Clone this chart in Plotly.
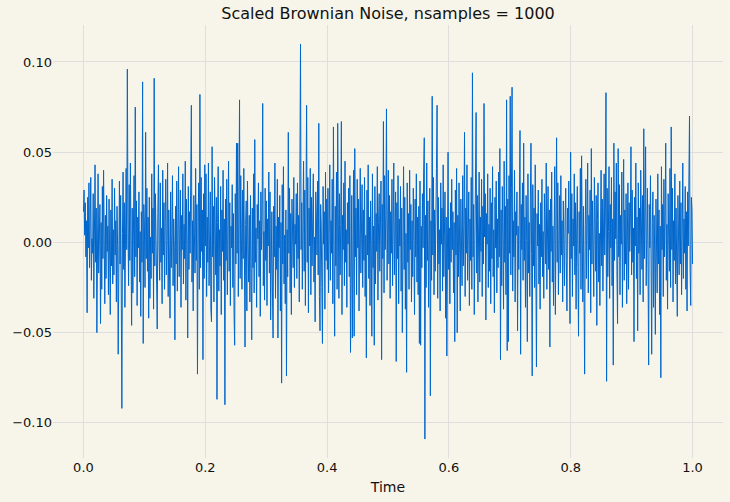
import numpy as np
import plotly.graph_objects as go

# noise values, in thousandths
noise_milli = [
    17, 29, 4, 22, -8, 12, -39, 25, -3, 33,
    -14, 8, 36, -21, 2, -6, 27, -31, 14, 43,
    -11, 19, -50, 6, 38, -17, -2, 21, -45, 11,
    -26, 31, -9, 40, 3, -34, 15, -20, 26, -5,
    9, -29, 24, 1, -40, 18, -13, 35, -23, 7,
    -18, 30, -7, 12, -33, 20, -1, -62, 16, 34,
    -12, 26, -27, -92, 5, 39, -15, 22, -36, 10,
    41, -4, 96, 13, -24, 32, -10, 44, 2, -46,
    19, -28, 8, 37, -19, 75, -8, 23, -35, 14,
    -3, 28, -22, 6, -41, 17, -11, 89, -56, 21,
    9, -25, 61, -9, 30, -16, 14, -42, 25, -31,
    3, -20, 38, -6, 19, -37, 91, -13, 27, 4,
    -29, -48, 16, 43, -2, -21, 33, -11, 8, -34,
    40, -7, 22, -26, 11, 35, -18, 1, 44, -30,
    18, -8, -42, 28, -14, 5, 37, -24, 13, -3,
    -54, 20, -12, 34, -27, 7, 42, -19, 2, 29,
    -36, 15, -4, 38, -23, 10, -9, 45, -32, 24,
    -1, -53, 31, -15, 17, -6, 39, 76, -22, 12,
    -38, 26, 5, -17, 41, -10, 21, -73, 9, 33,
    -26, 82, -14, 36, -5, 18, -65, 27, -20, 43,
    -2, 38, -30, 14, -11, 44, -24, 6, 28, -37,
    -44, 53, -8, 20, -33, 36, 1, -18, 25, -87,
    11, 42, -27, 7, -13, 31, -40, 18, -5, 40,
    -21, 13, -90, 24, -10, 35, -29, 4, 45, -16,
    22, -35, 9, -3, 32, -25, 16, -39, -57, 27,
    -12, 55, -6, 55, -30, 18, 79, -20, 37, 3,
    -26, 29, -9, 41, -15, -58, 10, 23, -38, 34,
    -1, -22, 15, -33, 26, -7, -54, 19, -14, 38,
    -28, 57, -11, 8, -36, 21, 2, 33, -19, 12,
    -41, 28, -4, 16, 77, -24, 6, -32, 30, -10,
    23, -35, 13, -2, 39, -17, 28, -43, 5, 17,
    -27, -53, 20, -8, 44, -31, 9, -15, 35, -53,
    14, -3, 26, -38, 11, -78, 32, -12, 42, -23,
    4, -34, 18, -74, 7, -19, 61, -6, 30, -28,
    16, -40, 24, 1, -14, 36, -25, 10, -1, 27,
    -20, 33, -9, 15, -33, 40, 110, -4, 22, -26,
    12, 45, -16, 29, -35, 8, 76, -11, 36, -39,
    19, -2, 41, -29, 25, -13, 6, 38, -22, 3,
    -44, 28, 14, -7, 34, -18, 66, -30, -49, 21,
    9, -25, -56, 31, -1, 17, -37, 39, -10, 24,
    -15, 30, -28, 5, 43, -21, 12, -6, 35, -34,
    64, -9, -52, 20, -13, 39, -26, 66, 2, -31,
    27, -18, 10, 67, -40, 15, -4, 33, -24, 45,
    -11, 7, -36, 22, -1, 30, -19, 37, -61, 16,
    26, -53, 11, 40, -52, 52, -8, 19, -29, 35,
    -3, 24, -38, 13, 41, -17, 6, 32, -25, 18,
    -10, 36, -30, 4, -64, 29, -7, 43, -20, 14,
    -35, 23, -1, -52, 38, -14, 9, -57, 31, -23,
    16, -5, 42, -32, 11, 27, -16, 2, 34, -65,
    21, -9, 67, -28, 37, -4, 15, 74, -21, 8,
    40, -12, 26, -31, 17, -6, 35, -24, 10, 44,
    -18, 3, 28, -66, 22, -9, 37, -34, 13, -2,
    31, -27, 19, -50, 8, 42, -15, 25, -37, 5,
    -72, 33, -11, 16, -26, 40, -4, 21, -33, 12,
    -19, 30, 1, -40, 24, -8, 38, -22, 14, -29,
    20, -56, 34, -57, 9, -14, 27, -3, 39, 58,
    -109, 15, -25, 44, -10, 23, -36, 6, 30, -85,
    12, -21, 81, -7, 36, -29, 18, -16, 2, 41,
    76, -31, 25, -12, 7, -38, 33, -1, 19, -27,
    43, -19, 4, 28, -42, 14, -63, 26, 50, -15,
    8, -34, 22, -11, 35, -4, 17, -28, 11, -55,
    29, -7, 41, -50, 15, -19, 33, -2, -38, 24,
    6, -24, 37, -13, 10, 61, -30, 19, -6, 43,
    -21, 2, 28, -35, 13, -10, 36, -26, 94, -8,
    21, -40, 5, 31, 72, -17, 26, -33, 9, 39,
    -22, 14, -5, 35, -30, 20, -12, 77, 3, 27,
    -43, 16, -1, 38, -25, 10, -16, 30, -34, 22,
    -9, 42, -19, 7, -39, 25, -3, 34, -28, 13,
    -14, 39, -8, 52, -65, 18, -24, 31, 2, -37,
    45, -11, 20, -29, 79, -60, 24, -55, 37, -6,
    81, -18, 30, 86, -27, 12, -8, 40, -33, 17,
    4, 28, -49, 9, -15, 36, 62, -62, 21, -4,
    33, -21, 55, -10, 14, -36, 26, 1, -55, 38,
    -17, 11, -30, 24, 55, -6, -74, 32, -13, 19,
    -25, 43, 7, -69, 16, -2, 29, -23, 10, -37,
    22, -8, 35, -19, 6, -31, 27, 13, -12, 44,
    -26, 3, 31, -15, 18, -58, 24, -5, 39, -22,
    9, -35, 16, 42, -40, 20, 58, -11, 33, -29,
    1, 26, -17, 37, -7, 12, -33, 23, -1, -24,
    14, 30, -10, -38, 19, 5, 34, -20, -45, 50,
    -9, 27, -30, 13, -2, 38, -18, 22, -37, 8,
    31, -14, -52, 17, -6, 41, -26, 48, 4, -33,
    20, -11, -73, 10, 35, -20, 2, 44, -28, 15,
    -4, 29, -39, 52, -12, 23, -1, -30, 36, 7,
    -16, 26, -46, 12, 33, -22, 5, -35, 19, 40,
    -13, 24, -27, 11, 38, -7, 17, 83, -77, 30,
    -19, 6, 42, -31, 21, -3, 36, -24, 13, -68,
    55, -10, 28, 2, 44, -16, -45, 52, -8, 32,
    -29, 15, -1, 39, -36, 9, 46, -21, 18, -12,
    27, -34, 4, 33, -26, 22, -5, 12, 53, -18,
    29, -11, 8, -55, 25, -2, 44, -20, 14, -49,
    33, -6, 19, -29, 40, 2, -15, 26, -33, 63,
    -9, 17, 53, -24, 6, 30, -14, -68, 21, -3,
    37, -19, -62, 11, 28, -36, 15, -7, -51, 24,
    3, -28, 38, -12, 18, -40, 9, -75, 42, -4,
    21, -30, 35, -8, 14, 55, -21, 10, -37, 27,
    2, -16, 41, -25, 64, -4, 30, -33, 12, -10,
    38, -23, 19, -1, -41, 26, 7, -18, 34, -12,
    22, -29, 3, 44, -20, 13, -6, 31, -26, 17,
    -38, 28, -2, 37, 70, -15, -35, 25, 18, -12,
]

noise = np.array(noise_milli) / 1000.0
time = np.linspace(0, 1, len(noise))

x_ticks = [0.0, 0.2, 0.4, 0.6, 0.8, 1.0]
y_ticks = [-0.10, -0.05, 0.00, 0.05, 0.10]

BG = "#f7f5e9"
GRID = "#dedede"
FONT = "DejaVu Sans"
TEXT = "#111111"

fig = go.Figure(go.Scatter(
    x=time,
    y=noise,
    mode="lines",
    line=dict(color="#0066cc", width=1),
    hoverinfo="none"))

fig.update_layout(
    width=730,
    height=502,
    margin=dict(l=53, r=7, t=25, b=44),
    paper_bgcolor=BG,
    plot_bgcolor=BG,
    font=dict(family=FONT, size=13, color=TEXT),
    showlegend=False,
    title=dict(
        text="Scaled Brownian Noise, nsamples = 1000",
        font=dict(family=FONT, size=16, color=TEXT),
        x=0.5, xref="paper", xanchor="center",
        y=1 - 13 / 502, yref="container", yanchor="middle"))

fig.update_xaxes(
    range=[-0.05, 1.05],
    tickvals=x_ticks,
    tickformat=".1f",
    showgrid=True, gridcolor=GRID, gridwidth=1,
    zeroline=False, showline=False, ticks="",
    automargin=False,
    title=dict(text="Time", font=dict(family=FONT, size=14, color=TEXT), standoff=8))

fig.update_yaxes(
    range=[-0.1195, 0.1205],
    tickvals=y_ticks,
    tickformat=".2f",
    showgrid=True, gridcolor=GRID, gridwidth=1,
    zeroline=False, showline=False, ticks="",
    automargin=False)

# the page's default body margin shifts the figure, drop it
fig.write_html("out.html", config={"displayModeBar": False},
               post_script="document.body.style.margin='0';")
